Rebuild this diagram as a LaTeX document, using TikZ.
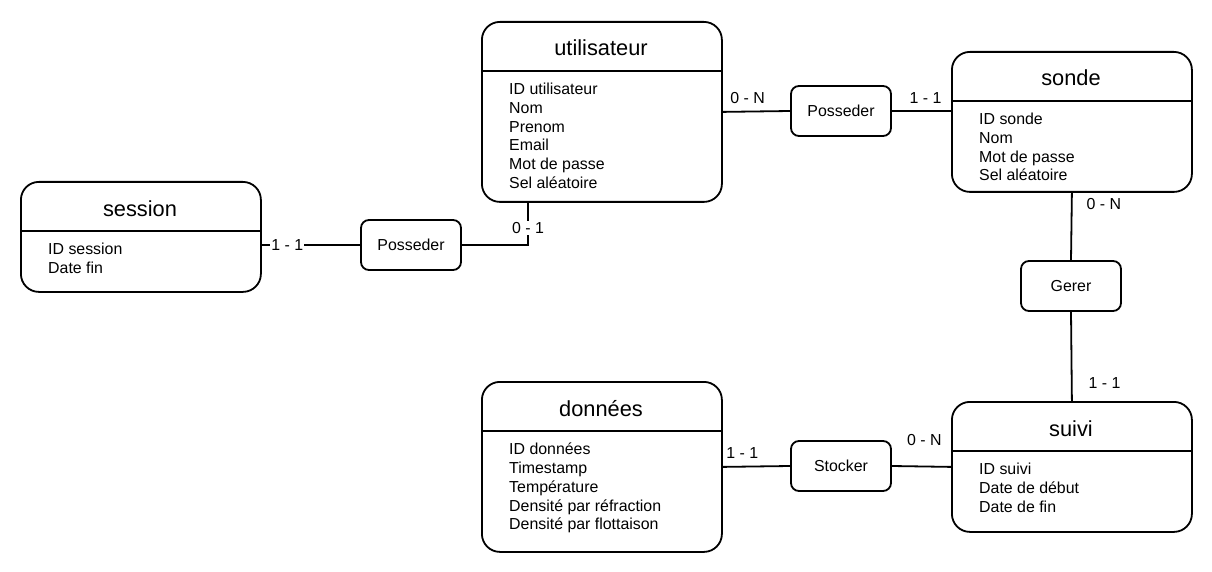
\documentclass[tikz,border=0pt]{standalone}
\usepackage{fontspec}
\setmainfont{Liberation Sans}
\usetikzlibrary{positioning,calc}

\begin{document}
\begin{tikzpicture}[
    x=1pt, y=-1pt,
    entity/.style={draw=black, line width=1.8pt, rounded corners=18pt, minimum width=240pt, inner sep=0pt, anchor=north west},
    divider/.style={draw=black, line width=1.8pt},
    title/.style={font=\fontsize{21.8}{25}\selectfont, anchor=base, inner sep=0pt},
    attrs/.style={font=\fontsize{15.9}{18.7}\selectfont, align=left, anchor=north west, inner sep=0pt},
    relation/.style={draw=black, line width=1.8pt, rounded corners=8pt, minimum width=100pt, minimum height=50pt, font=\fontsize{15.9}{18.7}\selectfont},
    link/.style={draw=black, line width=1.8pt},
    card/.style={font=\fontsize{15.9}{18.7}\selectfont, inner sep=0pt},
    oncard/.style={card, fill=white, inner sep=1pt}
]
\useasboundingbox (0,0) rectangle (1212,572);

% session
\begin{scope}[shift={(20,181)}]
    \node[entity, minimum height=110pt] (session) at (0,0) {};
    \draw[divider] (0,50) -- (241,50);
    \node[title] (session-title) at (120,35) {session};
    \node[attrs] (session-attrs) at (28,62) {ID session\\Date fin};
\end{scope}

% utilisateur
\begin{scope}[shift={(481,21)}]
    \node[entity, minimum height=180pt] (utilisateur) at (0,0) {};
    \draw[divider] (0,50) -- (240,50);
    \node[title] (utilisateur-title) at (120,35) {utilisateur};
    \node[attrs] (utilisateur-attrs) at (28,62) {ID utilisateur\\Nom\\Prenom\\Email\\Mot de passe\\Sel aléatoire};
\end{scope}

% sonde
\begin{scope}[shift={(951,51)}]
    \node[entity, minimum height=140pt] (sonde) at (0,0) {};
    \draw[divider] (0,50) -- (240,50);
    \node[title] (sonde-title) at (120,35) {sonde};
    \node[attrs] (sonde-attrs) at (28,62) {ID sonde\\Nom\\Mot de passe\\Sel aléatoire};
\end{scope}

% donnees
\begin{scope}[shift={(481,381)}]
    \node[entity, minimum height=170pt] (donnees) at (0,0) {};
    \draw[divider] (0,50) -- (240,50);
    \node[title] (donnees-title) at (120,35) {données};
    \node[attrs] (donnees-attrs) at (28,62) {ID données\\Timestamp\\Température\\Densité par réfraction\\Densité par flottaison};
\end{scope}

% suivi
\begin{scope}[shift={(951,401)}]
    \node[entity, minimum height=130pt] (suivi) at (0,0) {};
    \draw[divider] (0,50) -- (240,50);
    \node[title] (suivi-title) at (120,35) {suivi};
    \node[attrs] (suivi-attrs) at (28,62) {ID suivi\\Date de début\\Date de fin};
\end{scope}

% associations
\node[relation] (posseder-a) at (411,245) {Posseder};
\node[relation] (posseder-b) at (841,111) {Posseder};
\node[relation] (gerer) at (1071,286) {Gerer};
\node[relation] (stocker) at (841,466) {Stocker};

% links
\coordinate (utilisateur-foot) at ($(utilisateur.south west)+(47,0)$);
\draw[link] (session.east |- posseder-a) -- node[oncard, pos=0.26] {1 - 1} (posseder-a.west);
\draw[link] (posseder-a.east) -| node[oncard, pos=0.7] {0 - 1} (utilisateur-foot);
\draw[link] (utilisateur.east) -- node[card, pos=0.37, above=7pt] {0 - N} (posseder-b.west);
\draw[link] (posseder-b.east) -- node[card, pos=0.57, above=7pt] {1 - 1} (sonde.west |- posseder-b);
\draw[link] (sonde.south) -- node[card, pos=0.17, right=14pt] {0 - N} (gerer.north);
\draw[link] (gerer.south) -- node[card, pos=0.8, right=16pt] {1 - 1} (suivi.north);
\draw[link] (donnees.east) -- node[card, pos=0.29, above=7pt] {1 - 1} (stocker.west);
\draw[link] (stocker.east) -- node[card, pos=0.55, above=20pt] {0 - N} (suivi.west);

\end{tikzpicture}
\end{document}
